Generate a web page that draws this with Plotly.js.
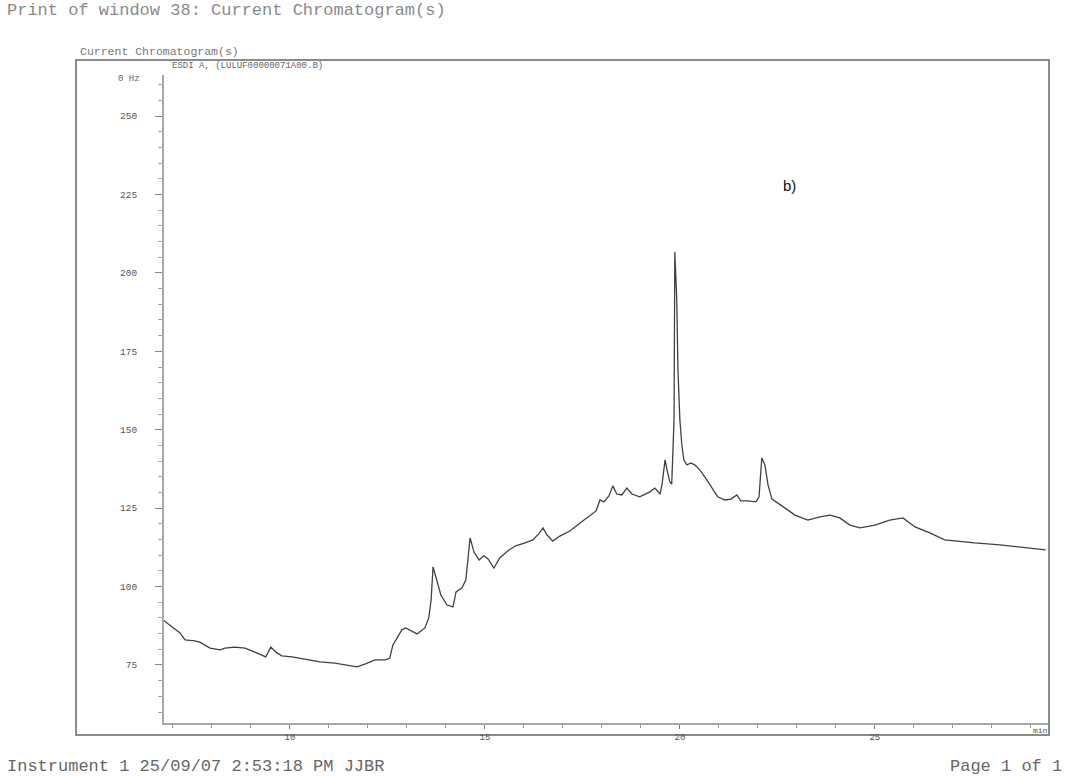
<!DOCTYPE html>
<html>
<head>
<meta charset="utf-8">
<script src="https://cdn.plot.ly/plotly-3.0.1.min.js"></script>
<style>html,body{margin:0;padding:0;background:#fff;}#chart{width:1072px;height:776px;}</style>
</head>
<body>
<div id="chart"></div>
<script>
// Retention time (min)
const times = [6.74,6.97,7.18,7.31,7.56,7.69,7.95,8.21,8.33,8.59,8.85,9.10,9.28,9.38,9.51,9.64,9.79,10.05,10.38,10.77,
  11.15,11.54,11.72,11.92,12.18,12.44,12.56,12.64,12.74,12.87,12.97,13.13,13.26,13.36,13.46,13.56,13.62,13.67,13.77,13.87,
  14.03,14.18,14.26,14.41,14.51,14.62,14.72,14.85,14.97,15.08,15.23,15.38,15.59,15.79,16.03,16.23,16.38,16.49,16.59,16.74,
  16.92,17.18,17.44,17.69,17.85,17.95,18.05,18.18,18.28,18.38,18.51,18.64,18.77,18.97,19.23,19.36,19.49,19.54,19.62,19.67,
  19.74,19.79,19.85,19.87,19.92,19.95,20.00,20.05,20.10,20.18,20.28,20.38,20.51,20.69,20.85,20.97,21.15,21.31,21.46,21.56,
  21.74,21.95,22.03,22.10,22.18,22.26,22.36,22.51,22.69,22.95,23.28,23.59,23.85,24.10,24.36,24.62,25.00,25.38,25.72,26.03,
  26.41,26.79,27.05,27.56,28.21,28.72,29.38];
// Detector signal
const signal = [89.4,87.1,85.2,83.0,82.7,82.3,80.4,79.8,80.4,80.7,80.4,79.1,78.2,77.6,80.7,79.1,77.9,77.6,76.9,76.0,
  75.6,74.7,74.4,75.3,76.6,76.6,77.2,81.4,83.6,86.2,86.8,85.8,84.9,85.8,86.8,90.0,95.7,106.3,102.1,97.3,
  94.1,93.5,98.3,99.6,102.1,115.5,111.0,108.5,109.8,108.8,105.9,109.1,111.4,113.0,113.9,114.9,116.8,118.7,116.5,114.5,
  116.1,117.7,120.3,122.5,124.1,127.6,127.0,128.9,132.1,129.5,129.2,131.4,129.5,128.6,130.2,131.4,129.5,132.4,140.4,137.2,
  133.4,132.7,153.1,206.7,191.4,169.1,153.1,145.2,140.4,138.8,139.4,138.8,137.2,134.0,130.8,128.6,127.6,127.9,129.2,127.3,
  127.3,127.0,128.6,141.0,138.8,132.4,127.9,126.7,125.1,122.8,121.2,122.2,122.8,121.9,119.6,118.7,119.6,121.2,121.9,119.0,
  117.1,114.9,114.5,113.9,113.3,112.6,111.7];
// Tick labels
const yTickVals = [75,100,125,150,175,200,225,250];
const yTickText = ["75","100","125","150","175","200","225","250"];
const xTickVals = [10,15,20,25];
const xTickText = ["10","15","20","25"];

const mono = "Liberation Mono, DejaVu Sans Mono, monospace";
const trace = {
  x: times, y: signal, type: 'scatter', mode: 'lines',
  line: {color: '#404040', width: 1.3, shape: 'linear'},
  hoverinfo: 'skip', showlegend: false
};

const layout = {
  width: 1072, height: 776,
  margin: {l: 164, r: 24, t: 75, b: 53},
  paper_bgcolor: '#ffffff', plot_bgcolor: '#ffffff',
  showlegend: false,
  xaxis: {
    range: [6.77, 29.44], showgrid: false, zeroline: false,
    showline: true, linecolor: '#a8a8a8', linewidth: 2,
    tickmode: 'array', tickvals: xTickVals, ticktext: xTickText,
    ticks: 'outside', ticklen: 4, tickcolor: '#777', tickwidth: 1,
    minor: {dtick: 1, tick0: 0, ticks: 'outside', ticklen: 3, tickcolor: '#999', showgrid: false},
    tickfont: {family: mono, size: 9, color: '#555'}
  },
  yaxis: {
    range: [56.5, 263.1], showgrid: false, zeroline: false,
    showline: true, linecolor: '#a8a8a8', linewidth: 2,
    tickmode: 'array', tickvals: yTickVals, ticktext: yTickText,
    ticks: 'outside', ticklen: 7, tickcolor: '#888', tickwidth: 1,
    minor: {dtick: 5, tick0: 0, ticks: 'outside', ticklen: 4, tickcolor: '#aaa', showgrid: false},
    ticklabelstandoff: 16,
    tickfont: {family: mono, size: 9.5, color: '#555'}
  },
  shapes: [
    {type: 'rect', xref: 'paper', yref: 'paper', x0: -0.0995, x1: 1.0011, y0: -0.0185, y1: 1.0231,
     line: {color: '#8a8a8a', width: 2}, fillcolor: 'rgba(0,0,0,0)', layer: 'below'}
  ],
  annotations: [
    {text: 'Print of window 38: Current Chromatogram(s)', xref: 'paper', yref: 'paper', x: -0.1799, y: 1.1003,
     xanchor: 'left', yanchor: 'middle', showarrow: false, font: {family: mono, size: 17, color: '#8a8a8a'}},
    {text: 'Current Chromatogram(s)', xref: 'paper', yref: 'paper', x: -0.0973, y: 1.0355,
     xanchor: 'left', yanchor: 'middle', showarrow: false, font: {family: mono, size: 11.5, color: '#777'}},
    {text: 'ESDI A, (LULUF00000071A00.B)', xref: 'paper', yref: 'paper', x: 0.0068, y: 1.0139,
     xanchor: 'left', yanchor: 'middle', showarrow: false, font: {family: mono, size: 9, color: '#666'}},
    {text: '0 Hz', xref: 'paper', yref: 'paper', x: -0.0249, y: 0.9938,
     xanchor: 'right', yanchor: 'middle', showarrow: false, font: {family: mono, size: 9, color: '#666'}},
    {text: 'b)', xref: 'paper', yref: 'paper', x: 0.708, y: 0.830,
     xanchor: 'center', yanchor: 'middle', showarrow: false, font: {family: 'Liberation Sans, Arial, sans-serif', size: 15, color: '#111'}},
    {text: 'min', xref: 'paper', yref: 'paper', x: 0.991, y: -0.0123,
     xanchor: 'center', yanchor: 'middle', showarrow: false, font: {family: mono, size: 8, color: '#555'}},
    {text: 'Instrument 1 25/09/07 2:53:18 PM JJBR', xref: 'paper', yref: 'paper', x: -0.1799, y: -0.0664,
     xanchor: 'left', yanchor: 'middle', showarrow: false, font: {family: mono, size: 17, color: '#666'}},
    {text: 'Page 1 of 1', xref: 'paper', yref: 'paper', x: 1.018, y: -0.0664,
     xanchor: 'right', yanchor: 'middle', showarrow: false, font: {family: mono, size: 17, color: '#666'}}
  ]
};

Plotly.newPlot('chart', [trace], layout, {staticPlot: true, displayModeBar: false});
</script>
</body>
</html>
